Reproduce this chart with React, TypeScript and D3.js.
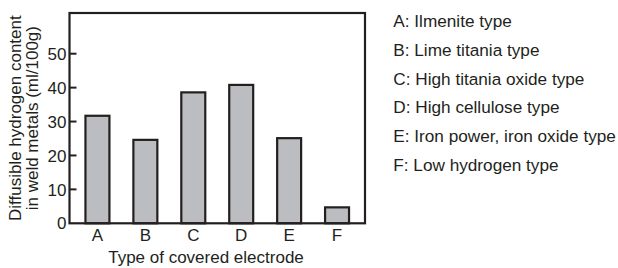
import React from 'react';
import * as d3 from 'd3';

const categories = ['A', 'B', 'C', 'D', 'E', 'F'];
const hydrogen = [31.7, 24.6, 38.6, 40.8, 25.1, 4.7];
const yTicks = [0, 10, 20, 30, 40, 50];
const legendLabels = [
  'A: Ilmenite type',
  'B: Lime titania type',
  'C: High titania oxide type',
  'D: High cellulose type',
  'E: Iron power, iron oxide type',
  'F: Low hydrogen type',
];

const width = 618;
const height = 268;
const frame = { left: 69.5, right: 365, top: 13, bottom: 223.3 };
const ink = '#231f20';
const font = 'Liberation Sans, Arial, Helvetica, sans-serif';

const y = d3.scaleLinear().domain([0, 62]).range([frame.bottom, frame.top]);
const x = d3.scaleBand<string>()
  .domain(categories)
  .range([frame.left, frame.right])
  .paddingInner(0.5)
  .paddingOuter(0.333);

export default function App() {
  return (
    <svg width={width} height={height} viewBox={`0 0 ${width} ${height}`}
      style={{ position: 'absolute', left: 0, top: 0, display: 'block', background: '#fff' }}
      fontFamily={font} fill={ink}>
      {/* bars */}
      {categories.map((c, i) => (
        <rect key={c}
          x={x(c)} y={y(hydrogen[i])}
          width={x.bandwidth()} height={y(0) - y(hydrogen[i])}
          fill="#bcbdc0" stroke={ink} strokeWidth={2.2} />
      ))}
      {/* frame */}
      <rect x={frame.left} y={frame.top} width={frame.right - frame.left}
        height={frame.bottom - frame.top} fill="none" stroke={ink} strokeWidth={2.2} />
      {/* y ticks */}
      {yTicks.map(t => (
        <g key={t} transform={`translate(0,${y(t)})`}>
          {t > 0 && <line x1={frame.left} x2={frame.left + 7} stroke={ink} strokeWidth={2} />}
          <text x={frame.left - 3} dy="0.36em" textAnchor="end" fontSize={17}>{t}</text>
        </g>
      ))}
      {/* x labels */}
      {categories.map(c => (
        <text key={c} x={(x(c) as number) + x.bandwidth() / 2} y={241}
          textAnchor="middle" fontSize={17}>{c}</text>
      ))}
      <text x={206} y={263} textAnchor="middle" fontSize={17}>Type of covered electrode</text>
      {/* y title */}
      <g transform={`translate(0,${(frame.top + frame.bottom) / 2}) rotate(-90)`}>
        <text x={0} y={21} textAnchor="middle" fontSize={17}>Diffusible hydrogen content</text>
        <text x={0} y={38} textAnchor="middle" fontSize={17}>in weld metals (ml/100g)</text>
      </g>
      {/* legend */}
      {legendLabels.map((l, i) => (
        <text key={l} x={393.3} y={27.3 + i * 28.7} fontSize={17.2}>{l}</text>
      ))}
    </svg>
  );
}
